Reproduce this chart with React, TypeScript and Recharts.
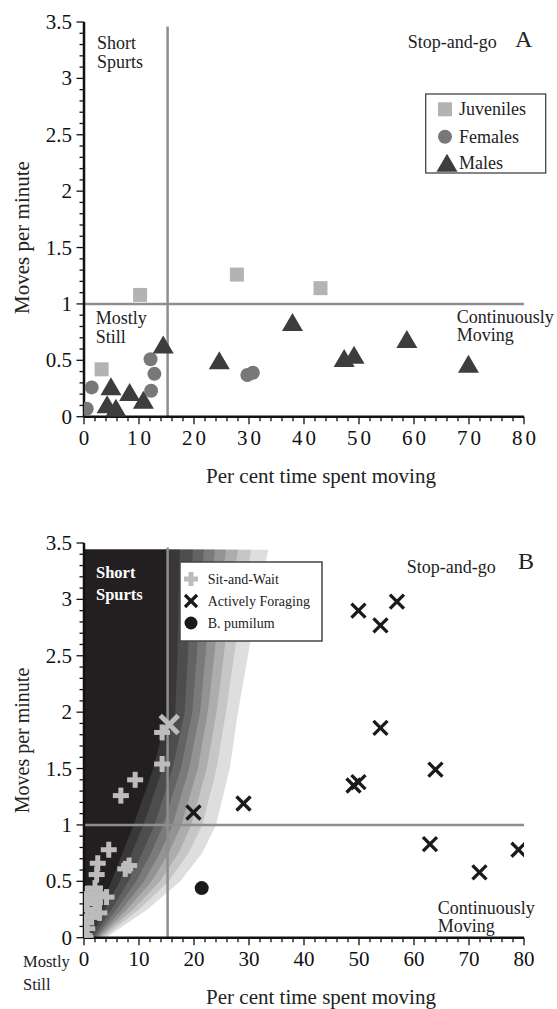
import React from 'react';
import { ComposedChart, Scatter, XAxis, YAxis, ReferenceLine, Area } from 'recharts';

const FONT = '"Liberation Serif", "Times New Roman", serif';

// ---------- axis ticks ----------
const xTicks = [0, 2, 4, 6, 8, 10, 12, 14, 16, 18, 20, 22, 24, 26, 28, 30, 32, 34, 36, 38, 40, 42, 44, 46, 48, 50, 52, 54, 56, 58, 60, 62, 64, 66, 68, 70, 72, 74, 76, 78, 80];
const yTicks = [0, 0.1, 0.2, 0.3, 0.4, 0.5, 0.6, 0.7, 0.8, 0.9, 1, 1.1, 1.2, 1.3, 1.4, 1.5, 1.6, 1.7, 1.8, 1.9, 2, 2.1, 2.2, 2.3, 2.4, 2.5, 2.6, 2.7, 2.8, 2.9, 3, 3.1, 3.2, 3.3, 3.4, 3.5];

// ---------- panel A data ----------
const juveniles = [
  { x: 3.2, y: 0.42 }, { x: 10.2, y: 1.08 }, { x: 27.8, y: 1.26 }, { x: 43.0, y: 1.14 },
];
const females = [
  { x: 0.5, y: 0.07 }, { x: 1.4, y: 0.26 }, { x: 12.1, y: 0.51 }, { x: 12.8, y: 0.38 },
  { x: 12.2, y: 0.23 }, { x: 29.7, y: 0.37 }, { x: 30.7, y: 0.39 },
];
const males = [
  { x: 4.9, y: 0.27 }, { x: 4.2, y: 0.11 }, { x: 5.8, y: 0.08 }, { x: 8.3, y: 0.22 },
  { x: 10.8, y: 0.15 }, { x: 14.4, y: 0.64 }, { x: 24.6, y: 0.50 }, { x: 37.9, y: 0.84 },
  { x: 47.3, y: 0.52 }, { x: 49.1, y: 0.55 }, { x: 58.7, y: 0.69 }, { x: 69.9, y: 0.47 },
];

// ---------- panel B data ----------
const sitAndWait = [
  { x: 14.2, y: 1.82 }, { x: 14.2, y: 1.54 }, { x: 9.3, y: 1.40 }, { x: 6.7, y: 1.26 },
  { x: 4.5, y: 0.78 }, { x: 2.5, y: 0.66 }, { x: 2.3, y: 0.56 }, { x: 7.5, y: 0.61 },
  { x: 8.2, y: 0.64 }, { x: 4.1, y: 0.36 }, { x: 2.0, y: 0.44 }, { x: 0.6, y: 0.39 },
  { x: 2.9, y: 0.39 }, { x: 0.2, y: 0.33 }, { x: 1.3, y: 0.35 }, { x: 2.0, y: 0.31 },
  { x: 0.6, y: 0.25 }, { x: 2.8, y: 0.22 }, { x: 1.4, y: 0.18 }, { x: 0.0, y: 0.14 },
  { x: 0.6, y: 0.08 }, { x: 0.1, y: 0.02 }, { x: 0.3, y: 0.0 },
];
const sitAndWaitCross = [{ x: 15.5, y: 1.89 }];
const activelyForaging = [
  { x: 19.9, y: 1.11 }, { x: 29.0, y: 1.19 }, { x: 49.0, y: 1.35 }, { x: 49.9, y: 1.38 },
  { x: 49.9, y: 2.90 }, { x: 53.9, y: 2.77 }, { x: 56.9, y: 2.98 }, { x: 53.9, y: 1.86 },
  { x: 63.9, y: 1.49 }, { x: 62.9, y: 0.83 }, { x: 71.9, y: 0.58 }, { x: 79.0, y: 0.78 },
];
const bPumilum = [{ x: 21.4, y: 0.44 }];

// ---------- panel B shaded background (x boundary of each shade at given y) ----------
const bandY = [0, 0.25, 0.5, 0.75, 1, 1.5, 2, 2.5, 3, 3.44];
const band0 = [0.8, 2.8, 5.0, 7.0, 9.0, 12.6, 15.2, 15.2, 15.2, 15.2];
const band1 = [1.2, 3.8, 6.5, 8.7, 10.8, 14.3, 16.6, 17.0, 17.2, 17.4];
const band2 = [1.6, 5.0, 8.1, 10.6, 12.8, 16.1, 18.3, 18.9, 19.3, 19.8];
const band3 = [2.0, 5.9, 9.5, 12.2, 14.4, 17.6, 19.7, 20.5, 21.1, 21.8];
const band4 = [2.3, 6.9, 10.9, 13.8, 16.1, 19.1, 21.1, 22.1, 22.9, 23.8];
const band5 = [2.7, 7.8, 12.3, 15.4, 17.7, 20.7, 22.5, 23.7, 24.7, 25.8];
const band6 = [3.0, 8.9, 13.8, 17.2, 19.5, 22.3, 24.1, 25.4, 26.6, 28.0];
const band7 = [3.5, 10.0, 15.4, 19.0, 21.5, 24.1, 25.8, 27.3, 28.7, 30.4];
const band8 = [4.0, 11.5, 17.5, 21.5, 24.0, 26.5, 28.0, 29.8, 31.5, 33.5];
const bandColors = ['#231f20', '#383838', '#4d4d4d', '#636363', '#7a7a7a', '#939393', '#adadad', '#c6c6c6', '#dedede'];

const bandRows = bandY.map((y, i) => ({
  y,
  b0: band0[i], b1: band1[i], b2: band2[i], b3: band3[i], b4: band4[i],
  b5: band5[i], b6: band6[i], b7: band7[i], b8: band8[i],
}));

// ---------- colours ----------
const JUV = '#b3b3b5';
const FEM = '#78787b';
const MAL = '#3d3d3d';
const SIT = '#bcbcbe';
const ACT = '#1a1a1a';
const REF = '#8e8e90';

// ---------- ticks ----------
function XTick(props: any) {
  const { x, y, payload, spacing } = props;
  const v = payload.value;
  const major = Math.abs(v % 10) < 1e-9;
  return (
    <g>
      <line x1={x} x2={x} y1={y} y2={y + (major ? 7.5 : 4.5)} stroke="#111" strokeWidth={1.3} />
      {major ? (
        <text x={x + spacing / 2} y={y + 21} textAnchor="middle" dominantBaseline="central"
          fontFamily={FONT} fontSize={21} letterSpacing={spacing} fill="#111">{String(v)}</text>
      ) : null}
    </g>
  );
}

function YTick(props: any) {
  const { x, y, payload } = props;
  const v = payload.value;
  const major = Math.abs(v * 2 - Math.round(v * 2)) < 1e-6;
  return (
    <g>
      <line x1={x - (major ? 7.5 : 4.5)} x2={x} y1={y} y2={y} stroke="#111" strokeWidth={1.3} />
      {major ? (
        <text x={x - 12} y={y} textAnchor="end" dominantBaseline="central"
          fontFamily={FONT} fontSize={21} fill="#111">{String(v)}</text>
      ) : null}
    </g>
  );
}

// ---------- marker shapes ----------
const SquareShape = (p: any) => <rect x={p.cx - 7} y={p.cy - 7} width={14} height={14} fill={JUV} />;
const FemaleShape = (p: any) => <circle cx={p.cx} cy={p.cy} r={7} fill={FEM} />;
const TriangleShape = (p: any) => (
  <polygon points={`${p.cx - 10.5},${p.cy + 9} ${p.cx + 10.5},${p.cy + 9} ${p.cx},${p.cy - 9}`} fill={MAL} />
);
const PlusShape = (p: any) => (
  <g fill={SIT}>
    <rect x={p.cx - 8} y={p.cy - 2.5} width={16} height={5} />
    <rect x={p.cx - 2.5} y={p.cy - 8} width={5} height={16} />
  </g>
);
const CrossShape = (p: any) => (
  <g stroke={ACT} strokeWidth={3.3}>
    <line x1={p.cx - 7} y1={p.cy - 7} x2={p.cx + 7} y2={p.cy + 7} />
    <line x1={p.cx - 7} y1={p.cy + 7} x2={p.cx + 7} y2={p.cy - 7} />
  </g>
);
const BigGreyCross = (p: any) => (
  <g stroke={SIT} strokeWidth={5}>
    <line x1={p.cx - 9} y1={p.cy - 9} x2={p.cx + 9} y2={p.cy + 9} />
    <line x1={p.cx - 9} y1={p.cy + 9} x2={p.cx + 9} y2={p.cy - 9} />
  </g>
);
const DotShape = (p: any) => <circle cx={p.cx} cy={p.cy} r={7} fill={ACT} />;

const CHART_W = 557;
const CHART_H = 470;
const MARGIN = { top: 22, right: 33, bottom: 13.3, left: 0 };

function ScatterPanel({ spacing, children }: { spacing: number; children: any }) {
  return (
    <ComposedChart width={CHART_W} height={CHART_H} margin={MARGIN}>
      <XAxis type="number" dataKey="x" domain={[0, 80]} ticks={xTicks} interval={0}
        tickLine={false} tickSize={0} tickMargin={0} height={40} allowDataOverflow
        axisLine={{ stroke: '#111', strokeWidth: 2.5 }}
        tick={(p: any) => <XTick {...p} spacing={spacing} />} />
      <YAxis type="number" dataKey="y" domain={[0, 3.5]} ticks={yTicks} interval={0}
        tickLine={false} tickSize={0} tickMargin={0} width={84} allowDataOverflow
        axisLine={{ stroke: '#111', strokeWidth: 2.5 }}
        tick={(p: any) => <YTick {...p} />} />
      <ReferenceLine segment={[{ x: 0, y: 1 }, { x: 80, y: 1 }]} stroke={REF} strokeWidth={2.5} />
      <ReferenceLine segment={[{ x: 15.2, y: 0 }, { x: 15.2, y: 3.46 }]} stroke={REF} strokeWidth={2.5} />
      {children}
    </ComposedChart>
  );
}

function BandChart() {
  const keys = ['b8', 'b7', 'b6', 'b5', 'b4', 'b3', 'b2', 'b1', 'b0'];
  return (
    <ComposedChart width={CHART_W} height={CHART_H} layout="vertical" data={bandRows}
      margin={{ top: 22, right: 33, bottom: 53.3, left: 84 }}>
      <XAxis type="number" domain={[0, 80]} hide allowDataOverflow />
      <YAxis type="number" dataKey="y" domain={[0, 3.5]} hide reversed allowDataOverflow />
      {keys.map((k) => (
        <Area key={k} dataKey={k} type="linear" stroke="none" fill={bandColors[Number(k.slice(1))]}
          fillOpacity={1} dot={false} activeDot={false} isAnimationActive={false} />
      ))}
    </ComposedChart>
  );
}

function T({ x, y, size = 18, children, anchor = 'start', weight = 'normal', fill = '#222' }: any) {
  return (
    <text x={x} y={y} fontFamily={FONT} fontSize={size} textAnchor={anchor} fontWeight={weight}
      dominantBaseline="central" fill={fill}>{children}</text>
  );
}

export default function App() {
  const B_TOP = 520.7;
  return (
    <div style={{ position: 'absolute', left: 0, top: 0, width: 557, height: 1009, background: '#fff', overflow: 'hidden' }}>
      <div style={{ position: 'absolute', left: 0, top: 0 }}>
        <ScatterPanel spacing={3}>
          <Scatter name="Juveniles" data={juveniles} shape={SquareShape} isAnimationActive={false} />
          <Scatter name="Females" data={females} shape={FemaleShape} isAnimationActive={false} />
          <Scatter name="Males" data={males} shape={TriangleShape} isAnimationActive={false} />
        </ScatterPanel>
      </div>
      <div style={{ position: 'absolute', left: 0, top: B_TOP }}>
        <BandChart />
      </div>
      <div style={{ position: 'absolute', left: 0, top: B_TOP }}>
        <ScatterPanel spacing={0}>
          <Scatter name="Sit-and-Wait" data={sitAndWait} shape={PlusShape} isAnimationActive={false} />
          <Scatter name="Sit-and-Wait (x)" data={sitAndWaitCross} shape={BigGreyCross} isAnimationActive={false} />
          <Scatter name="Actively Foraging" data={activelyForaging} shape={CrossShape} isAnimationActive={false} />
          <Scatter name="B. pumilum" data={bPumilum} shape={DotShape} isAnimationActive={false} />
        </ScatterPanel>
      </div>
      <svg width={557} height={1009} style={{ position: 'absolute', left: 0, top: 0, pointerEvents: 'none' }}>
        {/* Panel A annotations */}
        <T x={97} y={43.3}>Short</T>
        <T x={97} y={62.3}>Spurts</T>
        <T x={407.7} y={41.7}>Stop-and-go</T>
        <T x={515} y={39} size={24}>A</T>
        <T x={95.7} y={318.3}>Mostly</T>
        <T x={95.7} y={336.7}>Still</T>
        <T x={456.7} y={316.7}>Continuously</T>
        <T x={456.7} y={335}>Moving</T>
        <T x={321} y={476} size={21} anchor="middle">Per cent time spent moving</T>
        <g transform="translate(22,237.5) rotate(-90)">
          <T x={0} y={0} size={21} anchor="middle">Moves per minute</T>
        </g>
        {/* Panel A legend */}
        <rect x={425.7} y={94} width={120} height={79} fill="#fff" stroke="#444" strokeWidth={1.3} />
        <rect x={438} y={102.3} width={14} height={14} fill={JUV} />
        <circle cx={445} cy={136.7} r={7} fill={FEM} />
        <polygon points={`${436.5},${171.7} ${457.5},${171.7} ${447},${153.7}`} fill={MAL} />
        <T x={459} y={109.3}>Juveniles</T>
        <T x={459} y={136.7}>Females</T>
        <T x={459} y={162.7}>Males</T>

        {/* Panel B annotations */}
        <T x={96} y={572.7} size={16.5} weight="bold" fill="#fff">Short</T>
        <T x={96} y={594} size={16.5} weight="bold" fill="#fff">Spurts</T>
        <T x={406.7} y={566.7}>Stop-and-go</T>
        <T x={518} y={561} size={24}>B</T>
        <T x={437.7} y={907.7}>Continuously</T>
        <T x={437.7} y={925.7}>Moving</T>
        <T x={23} y={961.7} size={16.5}>Mostly</T>
        <T x={23} y={984} size={16.5}>Still</T>
        <T x={321} y={996.7} size={21} anchor="middle">Per cent time spent moving</T>
        <g transform="translate(22,740.5) rotate(-90)">
          <T x={0} y={0} size={20} anchor="middle">Moves per minute</T>
        </g>
        {/* Panel B legend */}
        <rect x={180} y={562} width={142} height={79} fill="#fff" stroke="#444" strokeWidth={1.5} />
        <g fill={SIT}>
          <rect x={184} y={576.5} width={14} height={5} />
          <rect x={188.5} y={572} width={5} height={14} />
        </g>
        <g stroke={ACT} strokeWidth={3.2}>
          <line x1={185} y1={595} x2={197} y2={607} />
          <line x1={185} y1={607} x2={197} y2={595} />
        </g>
        <circle cx={191} cy={623} r={6.5} fill={ACT} />
        <T x={207.7} y={579} size={14}>Sit-and-Wait</T>
        <T x={207.7} y={601} size={14}>Actively Foraging</T>
        <T x={207.7} y={623} size={14}>B. pumilum</T>
      </svg>
    </div>
  );
}
